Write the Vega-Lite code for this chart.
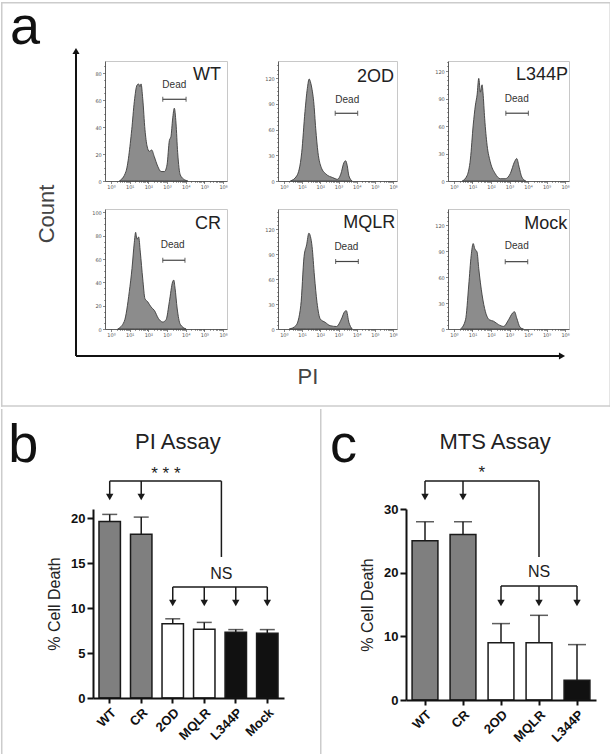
{
"$schema": "https://vega.github.io/schema/vega-lite/v6.json",
"background": "white",
"padding": 0,
"config": {
  "view": {"stroke": null},
  "font": "Liberation Sans",
  "axis": {"labelFont": "DejaVu Sans", "labelFontSize": 5, "labelColor": "#555", "tickColor": "#555", "tickWidth": 0.7, "tickSize": 2.5, "domainColor": "#444", "domainWidth": 0.8, "grid": false, "labelPadding": 1.2, "labelFlush": false, "labelOverlap": false}
},
"datasets": {
  "hist": [
    {"s":"WT","x":0.45,"c":0},{"s":"WT","x":0.8,"c":7},{"s":"WT","x":1.11,"c":38},{"s":"WT","x":1.25,"c":59},{"s":"WT","x":1.39,"c":71},{"s":"WT","x":1.48,"c":72},{"s":"WT","x":1.55,"c":70},{"s":"WT","x":1.61,"c":72},{"s":"WT","x":1.7,"c":61},{"s":"WT","x":1.82,"c":38},{"s":"WT","x":1.93,"c":26},{"s":"WT","x":2.05,"c":22},{"s":"WT","x":2.18,"c":23},{"s":"WT","x":2.32,"c":18},{"s":"WT","x":2.5,"c":11},{"s":"WT","x":2.68,"c":7},{"s":"WT","x":2.86,"c":7},{"s":"WT","x":3.0,"c":12},{"s":"WT","x":3.125,"c":30},{"s":"WT","x":3.21,"c":33},{"s":"WT","x":3.3,"c":46},{"s":"WT","x":3.39,"c":54},{"s":"WT","x":3.48,"c":43},{"s":"WT","x":3.57,"c":21},{"s":"WT","x":3.71,"c":4.5},{"s":"WT","x":3.93,"c":1},{"s":"WT","x":4.11,"c":0},
    {"s":"CR","x":0.36,"c":0},{"s":"CR","x":0.71,"c":6.5},{"s":"CR","x":0.98,"c":32},{"s":"CR","x":1.125,"c":52},{"s":"CR","x":1.25,"c":74.5},{"s":"CR","x":1.32,"c":83},{"s":"CR","x":1.39,"c":77},{"s":"CR","x":1.48,"c":79},{"s":"CR","x":1.57,"c":66},{"s":"CR","x":1.7,"c":43},{"s":"CR","x":1.82,"c":26},{"s":"CR","x":1.96,"c":23.5},{"s":"CR","x":2.14,"c":19},{"s":"CR","x":2.32,"c":16},{"s":"CR","x":2.54,"c":9},{"s":"CR","x":2.77,"c":6},{"s":"CR","x":2.95,"c":8},{"s":"CR","x":3.125,"c":23.5},{"s":"CR","x":3.3,"c":40.5},{"s":"CR","x":3.36,"c":42},{"s":"CR","x":3.43,"c":35},{"s":"CR","x":3.54,"c":18},{"s":"CR","x":3.71,"c":4},{"s":"CR","x":4.02,"c":0},
    {"s":"2OD","x":0.36,"c":0},{"s":"2OD","x":0.71,"c":6},{"s":"2OD","x":0.98,"c":33},{"s":"2OD","x":1.16,"c":81},{"s":"2OD","x":1.29,"c":108},{"s":"2OD","x":1.39,"c":119},{"s":"2OD","x":1.48,"c":114},{"s":"2OD","x":1.57,"c":104},{"s":"2OD","x":1.64,"c":92.5},{"s":"2OD","x":1.75,"c":61},{"s":"2OD","x":1.875,"c":33},{"s":"2OD","x":2.05,"c":16},{"s":"2OD","x":2.32,"c":8},{"s":"2OD","x":2.68,"c":4},{"s":"2OD","x":2.95,"c":2},{"s":"2OD","x":3.125,"c":8},{"s":"2OD","x":3.3,"c":21.6},{"s":"2OD","x":3.39,"c":23.6},{"s":"2OD","x":3.48,"c":17.7},{"s":"2OD","x":3.57,"c":6},{"s":"2OD","x":3.75,"c":0},
    {"s":"L344P","x":0.45,"c":0},{"s":"L344P","x":0.71,"c":6},{"s":"L344P","x":0.89,"c":24},{"s":"L344P","x":1.04,"c":61},{"s":"L344P","x":1.16,"c":83},{"s":"L344P","x":1.25,"c":94},{"s":"L344P","x":1.34,"c":112},{"s":"L344P","x":1.43,"c":97},{"s":"L344P","x":1.52,"c":105},{"s":"L344P","x":1.57,"c":96},{"s":"L344P","x":1.66,"c":68},{"s":"L344P","x":1.79,"c":39},{"s":"L344P","x":1.96,"c":21},{"s":"L344P","x":2.23,"c":8},{"s":"L344P","x":2.5,"c":2.5},{"s":"L344P","x":2.77,"c":2.5},{"s":"L344P","x":3.04,"c":8},{"s":"L344P","x":3.27,"c":21},{"s":"L344P","x":3.39,"c":24.5},{"s":"L344P","x":3.52,"c":15},{"s":"L344P","x":3.66,"c":4.4},{"s":"L344P","x":3.875,"c":0},
    {"s":"MQLR","x":0.3,"c":0},{"s":"MQLR","x":0.66,"c":4},{"s":"MQLR","x":0.93,"c":28},{"s":"MQLR","x":1.11,"c":87},{"s":"MQLR","x":1.25,"c":101},{"s":"MQLR","x":1.375,"c":115},{"s":"MQLR","x":1.46,"c":111},{"s":"MQLR","x":1.55,"c":99},{"s":"MQLR","x":1.68,"c":63.5},{"s":"MQLR","x":1.82,"c":32},{"s":"MQLR","x":2.0,"c":12},{"s":"MQLR","x":2.27,"c":8},{"s":"MQLR","x":2.54,"c":4},{"s":"MQLR","x":2.89,"c":3},{"s":"MQLR","x":3.16,"c":12},{"s":"MQLR","x":3.34,"c":21},{"s":"MQLR","x":3.43,"c":22},{"s":"MQLR","x":3.57,"c":8},{"s":"MQLR","x":3.75,"c":0},
    {"s":"Mock","x":0.36,"c":0},{"s":"Mock","x":0.625,"c":10.7},{"s":"Mock","x":0.8,"c":51},{"s":"Mock","x":0.93,"c":85},{"s":"Mock","x":1.04,"c":99},{"s":"Mock","x":1.125,"c":93},{"s":"Mock","x":1.25,"c":89},{"s":"Mock","x":1.34,"c":70},{"s":"Mock","x":1.52,"c":39.5},{"s":"Mock","x":1.7,"c":20},{"s":"Mock","x":1.91,"c":10.7},{"s":"Mock","x":2.14,"c":9},{"s":"Mock","x":2.41,"c":5},{"s":"Mock","x":2.68,"c":3},{"s":"Mock","x":2.95,"c":10.7},{"s":"Mock","x":3.16,"c":18.4},{"s":"Mock","x":3.27,"c":20},{"s":"Mock","x":3.39,"c":12.6},{"s":"Mock","x":3.57,"c":2},{"s":"Mock","x":3.75,"c":0}
  ],
  "pi": [
    {"g":"WT","v":19.6,"hi":20.4},{"g":"CR","v":18.2,"hi":20.1},{"g":"2OD","v":8.25,"hi":8.8},{"g":"MQLR","v":7.65,"hi":8.4},{"g":"L344P","v":7.3,"hi":7.6},{"g":"Mock","v":7.2,"hi":7.6}
  ],
  "mts": [
    {"g":"WT","v":25,"hi":28},{"g":"CR","v":26,"hi":28},{"g":"2OD","v":9,"hi":12},{"g":"MQLR","v":9,"hi":13.3},{"g":"L344P","v":3.1,"hi":8.7}
  ]
},
"spacing": 0,
"vconcat": [
{
  "hconcat": [
    {
      "width": 12, "height": 120,
      "data": {"values": [{}]},
      "layer": [
        {"mark": {"type": "rule", "strokeWidth": 1.5, "color": "#cccccc", "strokeCap": "square"},
         "encoding": {"x": {"datum": -7.604, "type": "quantitative", "scale": {"domain": [0, 1], "nice": false, "zero": false}, "axis": null},
                      "x2": {"datum": 43.104},
                      "y": {"datum": 1.4854, "type": "quantitative", "scale": {"domain": [0, 1], "nice": false, "zero": false}, "axis": null}}},
        {"mark": {"type": "rule", "strokeWidth": 1.5, "color": "#cccccc", "strokeCap": "square"},
         "encoding": {"x": {"datum": -7.604}, "x2": {"datum": 43.104}, "y": {"datum": -1.875}}},
        {"mark": {"type": "rule", "strokeWidth": 1.5, "color": "#cccccc", "strokeCap": "square"},
         "encoding": {"x": {"datum": -7.604}, "y": {"datum": 1.4854}, "y2": {"datum": -1.875}}},
        {"mark": {"type": "rule", "strokeWidth": 1.5, "color": "#cccccc", "strokeCap": "square"},
         "encoding": {"x": {"datum": 43.104}, "y": {"datum": 1.4854}, "y2": {"datum": -1.875}}},
        {"mark": {"type": "rule", "strokeWidth": 2, "color": "#111"},
         "encoding": {"x": {"datum": -1.4167}, "y": {"datum": -1.4583}, "y2": {"datum": 1.0833}}},
        {"mark": {"type": "rule", "strokeWidth": 2, "color": "#111"},
         "encoding": {"x": {"datum": -1.4167}, "x2": {"datum": 39.083}, "y": {"datum": -1.4583}}},
        {"mark": {"type": "point", "shape": "triangle-up", "filled": true, "size": 50, "color": "#111", "opacity": 1},
         "encoding": {"x": {"datum": -1.4167}, "y": {"datum": 1.0833}}},
        {"mark": {"type": "point", "shape": "triangle-right", "filled": true, "size": 50, "color": "#111", "opacity": 1},
         "encoding": {"x": {"datum": 39.083}, "y": {"datum": -1.4583}}},
        {"mark": {"type": "text", "text": "Count", "fontSize": 22, "angle": 270, "color": "#444", "baseline": "middle", "align": "center"},
         "encoding": {"x": {"datum": -3.833}, "y": {"datum": -0.275}}},
        {"mark": {"type": "text", "text": "PI", "fontSize": 22, "color": "#444", "baseline": "middle", "align": "center"},
         "encoding": {"x": {"datum": 17.917}, "y": {"datum": -1.633}}},
        {"mark": {"type": "text", "text": "a", "fontSize": 54, "color": "#111", "baseline": "alphabetic", "align": "left"},
         "encoding": {"x": {"datum": -6.917}, "y": {"datum": 1.1417}}}
      ]
    },
    {
      "concat": [
        {
          "width": 122, "height": 120, "view": {"stroke": "#c8c8c8", "strokeWidth": 1},
          "data": {"values": [{}]},
          "layer": [
            {"data": {"name": "hist"}, "transform": [{"filter": "datum.s === 'WT'"}],
             "mark": {"type": "area", "interpolate": "monotone", "fill": "#8c8c8c", "fillOpacity": 1, "stroke": "#3c3c3c", "strokeWidth": 0.9},
             "encoding": {
               "x": {"field": "x", "type": "quantitative", "scale": {"domain": [-0.32, 6.21], "nice": false, "zero": false},
                     "axis": {"title": null, "tickCount": 200, "labelOverlap": false, "values": [0,0.301,0.477,0.602,0.699,0.778,0.845,0.903,0.954,1,1.301,1.477,1.602,1.699,1.778,1.845,1.903,1.954,2,2.301,2.477,2.602,2.699,2.778,2.845,2.903,2.954,3,3.301,3.477,3.602,3.699,3.778,3.845,3.903,3.954,4,4.301,4.477,4.602,4.699,4.778,4.845,4.903,4.954,5,5.301,5.477,5.602,5.699,5.778,5.845,5.903,5.954,6], "labelExpr": "datum.value % 1 === 0 ? '10' + ['⁰','¹','²','³','⁴','⁵','⁶'][datum.value] : ''", "tickSize": {"condition": {"test": "datum.value % 1 === 0", "value": 2.5}, "value": 1.3}}},
               "y": {"field": "c", "type": "quantitative", "scale": {"domain": [0, 89], "nice": false},
                     "axis": {"title": null, "tickCount": 200, "format": "d", "labelOverlap": false, "values": [0,5,10,15,20,25,30,35,40,45,50,55,60,65,70,75,80,85], "labelExpr": "datum.value % 20 === 0 ? datum.label : ''", "tickSize": {"condition": {"test": "datum.value % 20 === 0", "value": 2.5}, "value": 1.3}}}
             }},
            {"mark": {"type": "rule", "stroke": "#444", "strokeWidth": 1.2}, "encoding": {"x": {"datum": 2.77}, "x2": {"datum": 4.02}, "y": {"datum": 60.6}}},
            {"mark": {"type": "tick", "orient": "vertical", "size": 5, "thickness": 1.2, "color": "#444"}, "encoding": {"x": {"datum": 2.77}, "y": {"datum": 60.6}}},
            {"mark": {"type": "tick", "orient": "vertical", "size": 5, "thickness": 1.2, "color": "#444"}, "encoding": {"x": {"datum": 4.02}, "y": {"datum": 60.6}}},
            {"mark": {"type": "text", "text": "Dead", "fontSize": 10, "color": "#333", "baseline": "middle"}, "encoding": {"x": {"datum": 3.39}, "y": {"datum": 71}}},
            {"mark": {"type": "text", "text": "WT", "fontSize": 18, "color": "#222", "align": "right", "baseline": "alphabetic"}, "encoding": {"x": {"datum": 5.89}, "y": {"datum": 75}}}
          ]
        },
        {
          "width": 119, "height": 120, "view": {"stroke": "#c8c8c8", "strokeWidth": 1},
          "data": {"values": [{}]},
          "layer": [
            {"data": {"name": "hist"}, "transform": [{"filter": "datum.s === '2OD'"}],
             "mark": {"type": "area", "interpolate": "monotone", "fill": "#8c8c8c", "fillOpacity": 1, "stroke": "#3c3c3c", "strokeWidth": 0.9},
             "encoding": {
               "x": {"field": "x", "type": "quantitative", "scale": {"domain": [-0.32, 6.21], "nice": false, "zero": false},
                     "axis": {"title": null, "tickCount": 200, "labelOverlap": false, "values": [0,0.301,0.477,0.602,0.699,0.778,0.845,0.903,0.954,1,1.301,1.477,1.602,1.699,1.778,1.845,1.903,1.954,2,2.301,2.477,2.602,2.699,2.778,2.845,2.903,2.954,3,3.301,3.477,3.602,3.699,3.778,3.845,3.903,3.954,4,4.301,4.477,4.602,4.699,4.778,4.845,4.903,4.954,5,5.301,5.477,5.602,5.699,5.778,5.845,5.903,5.954,6], "labelExpr": "datum.value % 1 === 0 ? '10' + ['⁰','¹','²','³','⁴','⁵','⁶'][datum.value] : ''", "tickSize": {"condition": {"test": "datum.value % 1 === 0", "value": 2.5}, "value": 1.3}}},
               "y": {"field": "c", "type": "quantitative", "scale": {"domain": [0, 140], "nice": false},
                     "axis": {"title": null, "tickCount": 200, "format": "d", "labelOverlap": false, "values": [0,5,10,15,20,25,30,35,40,45,50,55,60,65,70,75,80,85,90,95,100,105,110,115,120,125,130,135], "labelExpr": "datum.value % 30 === 0 ? datum.label : ''", "tickSize": {"condition": {"test": "datum.value % 30 === 0", "value": 2.5}, "value": 1.3}}}
             }},
            {"mark": {"type": "rule", "stroke": "#444", "strokeWidth": 1.2}, "encoding": {"x": {"datum": 2.82}, "x2": {"datum": 4.05}, "y": {"datum": 79}}},
            {"mark": {"type": "tick", "orient": "vertical", "size": 5, "thickness": 1.2, "color": "#444"}, "encoding": {"x": {"datum": 2.82}, "y": {"datum": 79}}},
            {"mark": {"type": "tick", "orient": "vertical", "size": 5, "thickness": 1.2, "color": "#444"}, "encoding": {"x": {"datum": 4.05}, "y": {"datum": 79}}},
            {"mark": {"type": "text", "text": "Dead", "fontSize": 10, "color": "#333", "baseline": "middle"}, "encoding": {"x": {"datum": 3.48}, "y": {"datum": 95}}},
            {"mark": {"type": "text", "text": "2OD", "fontSize": 18, "color": "#222", "align": "right", "baseline": "alphabetic"}, "encoding": {"x": {"datum": 6.04}, "y": {"datum": 116}}}
          ]
        },
        {
          "width": 121, "height": 120, "view": {"stroke": "#c8c8c8", "strokeWidth": 1},
          "data": {"values": [{}]},
          "layer": [
            {"data": {"name": "hist"}, "transform": [{"filter": "datum.s === 'L344P'"}],
             "mark": {"type": "area", "interpolate": "monotone", "fill": "#8c8c8c", "fillOpacity": 1, "stroke": "#3c3c3c", "strokeWidth": 0.9},
             "encoding": {
               "x": {"field": "x", "type": "quantitative", "scale": {"domain": [-0.32, 6.21], "nice": false, "zero": false},
                     "axis": {"title": null, "tickCount": 200, "labelOverlap": false, "values": [0,0.301,0.477,0.602,0.699,0.778,0.845,0.903,0.954,1,1.301,1.477,1.602,1.699,1.778,1.845,1.903,1.954,2,2.301,2.477,2.602,2.699,2.778,2.845,2.903,2.954,3,3.301,3.477,3.602,3.699,3.778,3.845,3.903,3.954,4,4.301,4.477,4.602,4.699,4.778,4.845,4.903,4.954,5,5.301,5.477,5.602,5.699,5.778,5.845,5.903,5.954,6], "labelExpr": "datum.value % 1 === 0 ? '10' + ['⁰','¹','²','³','⁴','⁵','⁶'][datum.value] : ''", "tickSize": {"condition": {"test": "datum.value % 1 === 0", "value": 2.5}, "value": 1.3}}},
               "y": {"field": "c", "type": "quantitative", "scale": {"domain": [0, 131], "nice": false},
                     "axis": {"title": null, "tickCount": 200, "format": "d", "labelOverlap": false, "values": [0,5,10,15,20,25,30,35,40,45,50,55,60,65,70,75,80,85,90,95,100,105,110,115,120,125,130], "labelExpr": "datum.value % 30 === 0 ? datum.label : ''", "tickSize": {"condition": {"test": "datum.value % 30 === 0", "value": 2.5}, "value": 1.3}}}
             }},
            {"mark": {"type": "rule", "stroke": "#444", "strokeWidth": 1.2}, "encoding": {"x": {"datum": 2.8}, "x2": {"datum": 4.02}, "y": {"datum": 74}}},
            {"mark": {"type": "tick", "orient": "vertical", "size": 5, "thickness": 1.2, "color": "#444"}, "encoding": {"x": {"datum": 2.8}, "y": {"datum": 74}}},
            {"mark": {"type": "tick", "orient": "vertical", "size": 5, "thickness": 1.2, "color": "#444"}, "encoding": {"x": {"datum": 4.02}, "y": {"datum": 74}}},
            {"mark": {"type": "text", "text": "Dead", "fontSize": 10, "color": "#333", "baseline": "middle"}, "encoding": {"x": {"datum": 3.39}, "y": {"datum": 89}}},
            {"mark": {"type": "text", "text": "L344P", "fontSize": 18, "color": "#222", "align": "right", "baseline": "alphabetic"}, "encoding": {"x": {"datum": 6.16}, "y": {"datum": 110}}}
          ]
        },
        {
          "width": 122, "height": 120, "view": {"stroke": "#c8c8c8", "strokeWidth": 1},
          "data": {"values": [{}]},
          "layer": [
            {"data": {"name": "hist"}, "transform": [{"filter": "datum.s === 'CR'"}],
             "mark": {"type": "area", "interpolate": "monotone", "fill": "#8c8c8c", "fillOpacity": 1, "stroke": "#3c3c3c", "strokeWidth": 0.9},
             "encoding": {
               "x": {"field": "x", "type": "quantitative", "scale": {"domain": [-0.32, 6.21], "nice": false, "zero": false},
                     "axis": {"title": null, "tickCount": 200, "labelOverlap": false, "values": [0,0.301,0.477,0.602,0.699,0.778,0.845,0.903,0.954,1,1.301,1.477,1.602,1.699,1.778,1.845,1.903,1.954,2,2.301,2.477,2.602,2.699,2.778,2.845,2.903,2.954,3,3.301,3.477,3.602,3.699,3.778,3.845,3.903,3.954,4,4.301,4.477,4.602,4.699,4.778,4.845,4.903,4.954,5,5.301,5.477,5.602,5.699,5.778,5.845,5.903,5.954,6], "labelExpr": "datum.value % 1 === 0 ? '10' + ['⁰','¹','²','³','⁴','⁵','⁶'][datum.value] : ''", "tickSize": {"condition": {"test": "datum.value % 1 === 0", "value": 2.5}, "value": 1.3}}},
               "y": {"field": "c", "type": "quantitative", "scale": {"domain": [0, 103], "nice": false},
                     "axis": {"title": null, "tickCount": 200, "format": "d", "labelOverlap": false, "values": [0,5,10,15,20,25,30,35,40,45,50,55,60,65,70,75,80,85,90,95,100], "labelExpr": "datum.value % 20 === 0 ? datum.label : ''", "tickSize": {"condition": {"test": "datum.value % 20 === 0", "value": 2.5}, "value": 1.3}}}
             }},
            {"mark": {"type": "rule", "stroke": "#444", "strokeWidth": 1.2}, "encoding": {"x": {"datum": 2.77}, "x2": {"datum": 3.96}, "y": {"datum": 59}}},
            {"mark": {"type": "tick", "orient": "vertical", "size": 5, "thickness": 1.2, "color": "#444"}, "encoding": {"x": {"datum": 2.77}, "y": {"datum": 59}}},
            {"mark": {"type": "tick", "orient": "vertical", "size": 5, "thickness": 1.2, "color": "#444"}, "encoding": {"x": {"datum": 3.96}, "y": {"datum": 59}}},
            {"mark": {"type": "text", "text": "Dead", "fontSize": 10, "color": "#333", "baseline": "middle"}, "encoding": {"x": {"datum": 3.3}, "y": {"datum": 72}}},
            {"mark": {"type": "text", "text": "CR", "fontSize": 18, "color": "#222", "align": "right", "baseline": "alphabetic"}, "encoding": {"x": {"datum": 5.89}, "y": {"datum": 86}}}
          ]
        },
        {
          "width": 119, "height": 120, "view": {"stroke": "#c8c8c8", "strokeWidth": 1},
          "data": {"values": [{}]},
          "layer": [
            {"data": {"name": "hist"}, "transform": [{"filter": "datum.s === 'MQLR'"}],
             "mark": {"type": "area", "interpolate": "monotone", "fill": "#8c8c8c", "fillOpacity": 1, "stroke": "#3c3c3c", "strokeWidth": 0.9},
             "encoding": {
               "x": {"field": "x", "type": "quantitative", "scale": {"domain": [-0.32, 6.21], "nice": false, "zero": false},
                     "axis": {"title": null, "tickCount": 200, "labelOverlap": false, "values": [0,0.301,0.477,0.602,0.699,0.778,0.845,0.903,0.954,1,1.301,1.477,1.602,1.699,1.778,1.845,1.903,1.954,2,2.301,2.477,2.602,2.699,2.778,2.845,2.903,2.954,3,3.301,3.477,3.602,3.699,3.778,3.845,3.903,3.954,4,4.301,4.477,4.602,4.699,4.778,4.845,4.903,4.954,5,5.301,5.477,5.602,5.699,5.778,5.845,5.903,5.954,6], "labelExpr": "datum.value % 1 === 0 ? '10' + ['⁰','¹','²','³','⁴','⁵','⁶'][datum.value] : ''", "tickSize": {"condition": {"test": "datum.value % 1 === 0", "value": 2.5}, "value": 1.3}}},
               "y": {"field": "c", "type": "quantitative", "scale": {"domain": [0, 144], "nice": false},
                     "axis": {"title": null, "tickCount": 200, "format": "d", "labelOverlap": false, "values": [0,5,10,15,20,25,30,35,40,45,50,55,60,65,70,75,80,85,90,95,100,105,110,115,120,125,130,135,140], "labelExpr": "datum.value % 30 === 0 ? datum.label : ''", "tickSize": {"condition": {"test": "datum.value % 30 === 0", "value": 2.5}, "value": 1.3}}}
             }},
            {"mark": {"type": "rule", "stroke": "#444", "strokeWidth": 1.2}, "encoding": {"x": {"datum": 2.84}, "x2": {"datum": 4.09}, "y": {"datum": 81}}},
            {"mark": {"type": "tick", "orient": "vertical", "size": 5, "thickness": 1.2, "color": "#444"}, "encoding": {"x": {"datum": 2.84}, "y": {"datum": 81}}},
            {"mark": {"type": "tick", "orient": "vertical", "size": 5, "thickness": 1.2, "color": "#444"}, "encoding": {"x": {"datum": 4.09}, "y": {"datum": 81}}},
            {"mark": {"type": "text", "text": "Dead", "fontSize": 10, "color": "#333", "baseline": "middle"}, "encoding": {"x": {"datum": 3.43}, "y": {"datum": 99}}},
            {"mark": {"type": "text", "text": "MQLR", "fontSize": 18, "color": "#222", "align": "right", "baseline": "alphabetic"}, "encoding": {"x": {"datum": 6.11}, "y": {"datum": 121}}}
          ]
        },
        {
          "width": 121, "height": 120, "view": {"stroke": "#c8c8c8", "strokeWidth": 1},
          "data": {"values": [{}]},
          "layer": [
            {"data": {"name": "hist"}, "transform": [{"filter": "datum.s === 'Mock'"}],
             "mark": {"type": "area", "interpolate": "monotone", "fill": "#8c8c8c", "fillOpacity": 1, "stroke": "#3c3c3c", "strokeWidth": 0.9},
             "encoding": {
               "x": {"field": "x", "type": "quantitative", "scale": {"domain": [-0.32, 6.21], "nice": false, "zero": false},
                     "axis": {"title": null, "tickCount": 200, "labelOverlap": false, "values": [0,0.301,0.477,0.602,0.699,0.778,0.845,0.903,0.954,1,1.301,1.477,1.602,1.699,1.778,1.845,1.903,1.954,2,2.301,2.477,2.602,2.699,2.778,2.845,2.903,2.954,3,3.301,3.477,3.602,3.699,3.778,3.845,3.903,3.954,4,4.301,4.477,4.602,4.699,4.778,4.845,4.903,4.954,5,5.301,5.477,5.602,5.699,5.778,5.845,5.903,5.954,6], "labelExpr": "datum.value % 1 === 0 ? '10' + ['⁰','¹','²','³','⁴','⁵','⁶'][datum.value] : ''", "tickSize": {"condition": {"test": "datum.value % 1 === 0", "value": 2.5}, "value": 1.3}}},
               "y": {"field": "c", "type": "quantitative", "scale": {"domain": [0, 139], "nice": false},
                     "axis": {"title": null, "tickCount": 200, "format": "d", "labelOverlap": false, "values": [0,5,10,15,20,25,30,35,40,45,50,55,60,65,70,75,80,85,90,95,100,105,110,115,120,125,130,135], "labelExpr": "datum.value % 30 === 0 ? datum.label : ''", "tickSize": {"condition": {"test": "datum.value % 30 === 0", "value": 2.5}, "value": 1.3}}}
             }},
            {"mark": {"type": "rule", "stroke": "#444", "strokeWidth": 1.2}, "encoding": {"x": {"datum": 2.77}, "x2": {"datum": 3.98}, "y": {"datum": 78}}},
            {"mark": {"type": "tick", "orient": "vertical", "size": 5, "thickness": 1.2, "color": "#444"}, "encoding": {"x": {"datum": 2.77}, "y": {"datum": 78}}},
            {"mark": {"type": "tick", "orient": "vertical", "size": 5, "thickness": 1.2, "color": "#444"}, "encoding": {"x": {"datum": 3.98}, "y": {"datum": 78}}},
            {"mark": {"type": "text", "text": "Dead", "fontSize": 10, "color": "#333", "baseline": "middle"}, "encoding": {"x": {"datum": 3.39}, "y": {"datum": 96}}},
            {"mark": {"type": "text", "text": "Mock", "fontSize": 18, "color": "#222", "align": "right", "baseline": "alphabetic"}, "encoding": {"x": {"datum": 6.11}, "y": {"datum": 116}}}
          ]
        }
      ],
      "columns": 3,
      "spacing": {"row": 28, "column": 51},
      "bounds": "flush"
    }
  ],
  "spacing": 0,
  "bounds": "flush"
},
{
  "hconcat": [
    {
      "width": 191, "height": 189,
      "data": {"name": "pi"},
      "layer": [
        {"mark": {"type": "bar", "stroke": "#1a1a1a", "strokeWidth": 1.5},
         "encoding": {
           "x": {"field": "g", "type": "nominal", "scale": {"domain": ["WT","CR","2OD","MQLR","L344P","Mock"], "paddingInner": 0.32, "paddingOuter": 0.19},
                 "axis": {"title": null, "labelAngle": -45, "labelFont": "Liberation Sans", "labelFontSize": 13, "labelFontWeight": "bold", "labelColor": "#111", "labelPadding": 3, "tickSize": 5, "tickWidth": 2, "tickColor": "#111", "domainColor": "#111", "domainWidth": 2, "zindex": 1}},
           "y": {"field": "v", "type": "quantitative", "scale": {"domain": [0, 21], "nice": false},
                 "axis": {"title": "% Cell Death", "values": [0,5,10,15,20], "format": "d", "labelFont": "Liberation Sans", "labelFontSize": 13, "labelFontWeight": "bold", "labelColor": "#111", "labelPadding": 2, "tickSize": 6, "tickWidth": 2, "tickColor": "#111", "domainColor": "#111", "domainWidth": 2, "titleFont": "Liberation Sans", "titleFontSize": 16, "titleFontWeight": "normal", "titleColor": "#222", "titlePadding": 8, "zindex": 1}},
           "fill": {"field": "g", "type": "nominal", "scale": {"domain": ["WT","CR","2OD","MQLR","L344P","Mock"], "range": ["#7f7f7f","#7f7f7f","#ffffff","#ffffff","#111111","#111111"]}, "legend": null}
         }},
        {"mark": {"type": "rule", "stroke": "#1a1a1a", "strokeWidth": 1.5},
         "encoding": {"x": {"field": "g", "type": "nominal"}, "y": {"field": "v", "type": "quantitative"}, "y2": {"field": "hi"}}},
        {"mark": {"type": "tick", "orient": "horizontal", "size": 15, "thickness": 1.5, "color": "#1a1a1a"},
         "encoding": {"x": {"field": "g", "type": "nominal"}, "y": {"field": "hi", "type": "quantitative"}}},
        {"data": {"values": [{}]}, "mark": {"type": "rule", "stroke": "#cccccc", "strokeWidth": 1.5, "strokeCap": "square"},
         "encoding": {"x": {"datum": "WT", "bandPosition": -4.5376}, "y": {"datum": 32.03}, "y2": {"datum": -6.5}}},
        {"data": {"values": [{}]}, "mark": {"type": "rule", "stroke": "#cccccc", "strokeWidth": 1.5, "strokeCap": "square"},
         "encoding": {"x": {"datum": "WT", "bandPosition": -4.5376}, "x2": {"datum": "WT", "bandPosition": 10.173}, "y": {"datum": -6.5}}},
        {"data": {"values": [{}]}, "mark": {"type": "rule", "stroke": "#1a1a1a", "strokeWidth": 1.5},
         "encoding": {"x": {"datum": "MQLR", "bandPosition": 1.3}, "x2": {"datum": "WT"}, "y": {"datum": 24.1}}},
        {"data": {"values": [{}]}, "mark": {"type": "rule", "stroke": "#1a1a1a", "strokeWidth": 1.5},
         "encoding": {"x": {"datum": "MQLR", "bandPosition": 1.3}, "y": {"datum": 24.1}, "y2": {"datum": 15.67}}},
        {"data": {"values": [{"g": "WT"}, {"g": "CR"}]}, "mark": {"type": "rule", "stroke": "#1a1a1a", "strokeWidth": 1.5},
         "encoding": {"x": {"field": "g", "type": "nominal"}, "y": {"datum": 24.1}, "y2": {"datum": 22.4}}},
        {"data": {"values": [{"g": "WT"}, {"g": "CR"}]}, "mark": {"type": "point", "shape": "triangle-down", "filled": true, "size": 55, "color": "#1a1a1a", "opacity": 1},
         "encoding": {"x": {"field": "g", "type": "nominal"}, "y": {"datum": 22.33}}},
        {"data": {"values": [{}]}, "mark": {"type": "text", "text": "* * *", "fontSize": 17, "color": "#222", "baseline": "alphabetic"},
         "encoding": {"x": {"datum": "2OD", "bandPosition": 0.18}, "y": {"datum": 24.3}}},
        {"data": {"values": [{}]}, "mark": {"type": "text", "text": "NS", "fontSize": 16, "color": "#222", "baseline": "alphabetic"},
         "encoding": {"x": {"datum": "MQLR", "bandPosition": 1.3}, "y": {"datum": 13.17}}},
        {"data": {"values": [{}]}, "mark": {"type": "rule", "stroke": "#1a1a1a", "strokeWidth": 1.5},
         "encoding": {"x": {"datum": "2OD"}, "x2": {"datum": "Mock"}, "y": {"datum": 12.33}}},
        {"data": {"values": [{"g": "2OD"}, {"g": "MQLR"}, {"g": "L344P"}, {"g": "Mock"}]}, "mark": {"type": "rule", "stroke": "#1a1a1a", "strokeWidth": 1.5},
         "encoding": {"x": {"field": "g", "type": "nominal"}, "y": {"datum": 12.33}, "y2": {"datum": 10.7}}},
        {"data": {"values": [{"g": "2OD"}, {"g": "MQLR"}, {"g": "L344P"}, {"g": "Mock"}]}, "mark": {"type": "point", "shape": "triangle-down", "filled": true, "size": 55, "color": "#1a1a1a", "opacity": 1},
         "encoding": {"x": {"field": "g", "type": "nominal"}, "y": {"datum": 10.56}}},
        {"data": {"values": [{}]}, "mark": {"type": "text", "text": "b", "fontSize": 54, "color": "#111", "align": "left", "baseline": "alphabetic", "dx": -101.5},
         "encoding": {"x": {"datum": "WT"}, "y": {"datum": 26.22}}},
        {"data": {"values": [{}]}, "mark": {"type": "text", "text": "PI Assay", "fontSize": 22, "color": "#222", "baseline": "alphabetic"},
         "encoding": {"x": {"datum": "2OD", "bandPosition": 0.74}, "y": {"datum": 27.67}}}
      ]
    },
    {
      "width": 190, "height": 191,
      "data": {"name": "mts"},
      "layer": [
        {"mark": {"type": "bar", "stroke": "#1a1a1a", "strokeWidth": 1.5},
         "encoding": {
           "x": {"field": "g", "type": "nominal", "scale": {"domain": ["WT","CR","2OD","MQLR","L344P"], "paddingInner": 0.32, "paddingOuter": 0.16},
                 "axis": {"title": null, "labelAngle": -45, "labelFont": "Liberation Sans", "labelFontSize": 13, "labelFontWeight": "bold", "labelColor": "#111", "labelPadding": 3, "tickSize": 5, "tickWidth": 2, "tickColor": "#111", "domainColor": "#111", "domainWidth": 2, "zindex": 1}},
           "y": {"field": "v", "type": "quantitative", "scale": {"domain": [0, 30], "nice": false},
                 "axis": {"title": "% Cell Death", "values": [0,10,20,30], "format": "d", "labelFont": "Liberation Sans", "labelFontSize": 13, "labelFontWeight": "bold", "labelColor": "#111", "labelPadding": 2, "tickSize": 6, "tickWidth": 2, "tickColor": "#111", "domainColor": "#111", "domainWidth": 2, "titleFont": "Liberation Sans", "titleFontSize": 16, "titleFontWeight": "normal", "titleColor": "#222", "titlePadding": 8, "zindex": 1}},
           "fill": {"field": "g", "type": "nominal", "scale": {"domain": ["WT","CR","2OD","MQLR","L344P"], "range": ["#7f7f7f","#7f7f7f","#ffffff","#ffffff","#111111"]}, "legend": null}
         }},
        {"mark": {"type": "rule", "stroke": "#1a1a1a", "strokeWidth": 1.5},
         "encoding": {"x": {"field": "g", "type": "nominal"}, "y": {"field": "v", "type": "quantitative"}, "y2": {"field": "hi"}}},
        {"mark": {"type": "tick", "orient": "horizontal", "size": 18, "thickness": 1.5, "color": "#1a1a1a"},
         "encoding": {"x": {"field": "g", "type": "nominal"}, "y": {"field": "hi", "type": "quantitative"}}},
        {"data": {"values": [{}]}, "mark": {"type": "rule", "stroke": "#cccccc", "strokeWidth": 1.5, "strokeCap": "square"},
         "encoding": {"x": {"datum": "WT", "bandPosition": -3.534}, "y": {"datum": 45.59}, "y2": {"datum": -8.87}}},
        {"data": {"values": [{}]}, "mark": {"type": "rule", "stroke": "#cccccc", "strokeWidth": 1.5, "strokeCap": "square"},
         "encoding": {"x": {"datum": "WT", "bandPosition": 7.746}, "y": {"datum": 45.59}, "y2": {"datum": -8.87}}},
        {"data": {"values": [{}]}, "mark": {"type": "rule", "stroke": "#cccccc", "strokeWidth": 1.5, "strokeCap": "square"},
         "encoding": {"x": {"datum": "WT", "bandPosition": -3.534}, "x2": {"datum": "WT", "bandPosition": 7.746}, "y": {"datum": -8.87}}},
        {"data": {"values": [{}]}, "mark": {"type": "rule", "stroke": "#1a1a1a", "strokeWidth": 1.5},
         "encoding": {"x": {"datum": "MQLR"}, "x2": {"datum": "WT"}, "y": {"datum": 34.4}}},
        {"data": {"values": [{}]}, "mark": {"type": "rule", "stroke": "#1a1a1a", "strokeWidth": 1.5},
         "encoding": {"x": {"datum": "MQLR"}, "y": {"datum": 34.4}, "y2": {"datum": 22.46}}},
        {"data": {"values": [{"g": "WT"}, {"g": "CR"}]}, "mark": {"type": "rule", "stroke": "#1a1a1a", "strokeWidth": 1.5},
         "encoding": {"x": {"field": "g", "type": "nominal"}, "y": {"datum": 34.4}, "y2": {"datum": 31.9}}},
        {"data": {"values": [{"g": "WT"}, {"g": "CR"}]}, "mark": {"type": "point", "shape": "triangle-down", "filled": true, "size": 55, "color": "#1a1a1a", "opacity": 1},
         "encoding": {"x": {"field": "g", "type": "nominal"}, "y": {"datum": 31.88}}},
        {"data": {"values": [{}]}, "mark": {"type": "text", "text": "*", "fontSize": 17, "color": "#222", "baseline": "alphabetic"},
         "encoding": {"x": {"datum": "CR", "bandPosition": 1.23}, "y": {"datum": 34.8}}},
        {"data": {"values": [{}]}, "mark": {"type": "text", "text": "NS", "fontSize": 16, "color": "#222", "baseline": "alphabetic"},
         "encoding": {"x": {"datum": "MQLR"}, "y": {"datum": 19.32}}},
        {"data": {"values": [{}]}, "mark": {"type": "rule", "stroke": "#1a1a1a", "strokeWidth": 1.5},
         "encoding": {"x": {"datum": "2OD"}, "x2": {"datum": "L344P"}, "y": {"datum": 17.9}}},
        {"data": {"values": [{"g": "2OD"}, {"g": "MQLR"}, {"g": "L344P"}]}, "mark": {"type": "rule", "stroke": "#1a1a1a", "strokeWidth": 1.5},
         "encoding": {"x": {"field": "g", "type": "nominal"}, "y": {"datum": 17.9}, "y2": {"datum": 15.3}}},
        {"data": {"values": [{"g": "2OD"}, {"g": "MQLR"}, {"g": "L344P"}]}, "mark": {"type": "point", "shape": "triangle-down", "filled": true, "size": 55, "color": "#1a1a1a", "opacity": 1},
         "encoding": {"x": {"field": "g", "type": "nominal"}, "y": {"datum": 15.23}}},
        {"data": {"values": [{}]}, "mark": {"type": "text", "text": "c", "fontSize": 54, "color": "#111", "align": "left", "baseline": "alphabetic", "dx": -95},
         "encoding": {"x": {"datum": "WT"}, "y": {"datum": 37.38}}},
        {"data": {"values": [{}]}, "mark": {"type": "text", "text": "MTS Assay", "fontSize": 22, "color": "#222", "baseline": "alphabetic"},
         "encoding": {"x": {"datum": "2OD", "bandPosition": 0.27}, "y": {"datum": 39.42}}}
      ]
    }
  ],
  "spacing": 0
}
]
}
